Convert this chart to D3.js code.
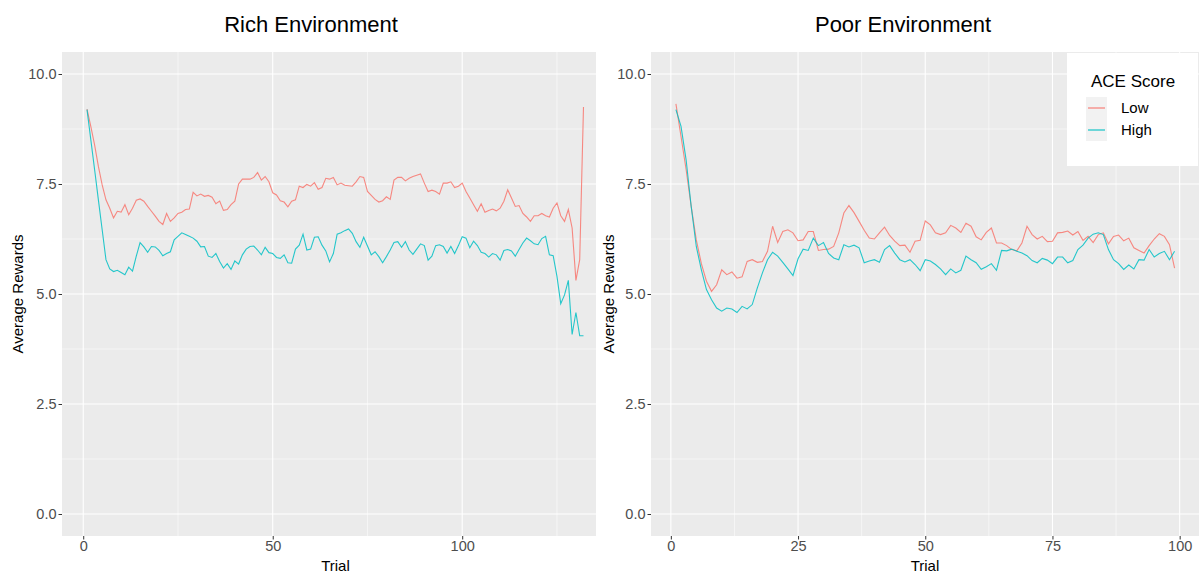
<!DOCTYPE html>
<html>
<head>
<meta charset="utf-8">
<script src="https://cdn.jsdelivr.net/npm/d3@7"></script>
<style>
  body { margin: 0; background: #fff; }
  text { font-family: "Liberation Sans", Arial, sans-serif; }
</style>
</head>
<body>
<div id="chart"></div>
<script>
// Average rewards per trial
const richLow = [
  9.20, 8.81, 8.39, 7.90, 7.48, 7.14, 6.95, 6.73, 6.88, 6.86,
  7.03, 6.80, 6.95, 7.13, 7.16, 7.11, 6.99, 6.88, 6.77, 6.65,
  6.58, 6.83, 6.65, 6.73, 6.83, 6.86, 6.92, 6.93, 7.31, 7.23,
  7.27, 7.22, 7.24, 7.20, 7.05, 7.11, 6.90, 6.92, 7.03, 7.11,
  7.50, 7.61, 7.61, 7.61, 7.65, 7.76, 7.59, 7.67, 7.55, 7.30,
  7.25, 7.12, 7.09, 6.98, 7.11, 7.14, 7.45, 7.42, 7.49, 7.45,
  7.53, 7.38, 7.42, 7.63, 7.61, 7.65, 7.48, 7.52, 7.47, 7.46,
  7.45, 7.55, 7.67, 7.65, 7.33, 7.24, 7.15, 7.09, 7.12, 7.21,
  7.15, 7.59, 7.65, 7.65, 7.57, 7.63, 7.67, 7.70, 7.73, 7.52,
  7.33, 7.36, 7.33, 7.27, 7.52, 7.52, 7.55, 7.42, 7.45, 7.52,
  7.33, 7.18, 7.03, 6.88, 7.05, 6.86, 6.90, 6.93, 6.89, 6.95,
  7.11, 7.37, 7.18, 6.99, 7.01, 6.83, 6.75, 6.65, 6.78, 6.78,
  6.83, 6.78, 6.75, 6.95, 7.07, 6.78, 6.65, 6.92, 6.50, 5.31,
  5.78, 9.25
];
const richHigh = [
  9.19, 8.51, 7.83, 7.14, 6.46, 5.78, 5.57, 5.51, 5.54, 5.49,
  5.44, 5.61, 5.52, 5.86, 6.17, 6.07, 5.95, 6.08, 6.07, 5.99,
  5.87, 5.92, 5.96, 6.23, 6.31, 6.39, 6.35, 6.31, 6.27, 6.20,
  6.07, 6.08, 5.86, 5.83, 5.92, 5.74, 5.59, 5.69, 5.56, 5.75,
  5.68, 5.89, 6.02, 6.08, 6.09, 6.00, 5.89, 6.06, 5.94, 5.92,
  5.83, 5.81, 5.89, 5.71, 5.70, 6.02, 6.11, 6.36, 6.00, 6.02,
  6.29, 6.30, 6.11, 5.98, 5.73, 5.92, 6.36, 6.39, 6.44, 6.48,
  6.38, 6.19, 6.06, 6.29, 6.09, 5.89, 5.96, 5.85, 5.71, 5.85,
  6.00, 6.17, 6.19, 6.06, 6.19, 6.00, 5.90, 6.02, 6.14, 6.10,
  5.77, 5.86, 6.10, 6.12, 6.08, 5.93, 6.08, 5.92, 6.10, 6.30,
  6.27, 6.05, 6.20, 6.10, 5.95, 5.92, 5.84, 5.92, 5.89, 5.77,
  5.99, 6.01, 5.98, 5.86, 6.01, 6.16, 6.27, 6.21, 6.14, 6.12,
  6.26, 6.31, 5.89, 5.87, 5.40, 4.78, 4.98, 5.31, 4.08, 4.58,
  4.05, 4.05
];
const poorLow = [
  9.32, 8.58, 7.83, 6.99, 6.23, 5.69, 5.29, 5.06, 5.21, 5.55,
  5.44, 5.50, 5.36, 5.39, 5.74, 5.78, 5.72, 5.74, 5.97, 6.54,
  6.17, 6.42, 6.46, 6.39, 6.21, 6.23, 6.42, 6.42, 5.99, 6.01,
  6.02, 6.08, 6.39, 6.84, 7.01, 6.85, 6.65, 6.45, 6.27, 6.25,
  6.39, 6.52, 6.33, 6.20, 6.10, 6.11, 5.95, 6.20, 6.22, 6.66,
  6.57, 6.39, 6.35, 6.39, 6.56, 6.50, 6.40, 6.61, 6.54, 6.30,
  6.23, 6.40, 6.50, 6.16, 6.16, 6.10, 6.01, 5.98, 6.16, 6.54,
  6.35, 6.25, 6.31, 6.19, 6.20, 6.39, 6.40, 6.43, 6.34, 6.42,
  6.22, 6.31, 6.17, 6.35, 6.39, 6.14, 6.31, 6.34, 6.21, 6.27,
  6.05, 5.99, 5.93, 6.10, 6.25, 6.37, 6.31, 6.12, 5.59
];
const poorHigh = [
  9.19, 8.81, 8.05, 6.99, 6.08, 5.55, 5.10, 4.87, 4.68, 4.61,
  4.68, 4.66, 4.58, 4.72, 4.66, 4.76, 5.14, 5.48, 5.78, 5.95,
  5.86, 5.72, 5.57, 5.42, 5.80, 6.02, 5.99, 6.27, 6.10, 6.17,
  5.92, 5.82, 5.78, 6.12, 6.07, 6.11, 6.05, 5.71, 5.75, 5.78,
  5.72, 6.01, 6.10, 5.93, 5.78, 5.73, 5.78, 5.67, 5.53, 5.78,
  5.75, 5.67, 5.57, 5.44, 5.57, 5.48, 5.54, 5.86, 5.78, 5.71,
  5.56, 5.62, 5.69, 5.54, 5.99, 5.98, 6.02, 5.97, 5.93, 5.87,
  5.76, 5.71, 5.81, 5.77, 5.69, 5.84, 5.84, 5.71, 5.76, 6.01,
  6.11, 6.27, 6.36, 6.39, 6.35, 6.01, 5.78, 5.69, 5.56, 5.66,
  5.57, 5.78, 5.77, 6.01, 5.84, 5.92, 5.97, 5.78, 5.97
];

const seriesNames = ['Low', 'High'];
const seriesColors = ['#F8766D', '#00BFC4'];
const yTicks = [0, 2.5, 5, 7.5, 10];
const yMinor = [1.25, 3.75, 6.25, 8.75];
const richXTicks = [0, 50, 100];
const richXMinor = [25, 75, 125];
const poorXTicks = [0, 25, 50, 75, 100];
const poorXMinor = [12.5, 37.5, 62.5, 87.5];

const width = 1201;
const height = 575;
const panelTop = 52, panelBottom = 536;

const svg = d3.select('#chart')
  .append('svg')
  .attr('width', width)
  .attr('height', height);

const y = d3.scaleLinear().domain([-0.5, 10.5]).range([panelBottom, panelTop]);

function drawPanel(p) {
  const x = d3.scaleLinear().domain(p.xDomain).range([p.left, p.right]);
  const g = svg.append('g');

  g.append('clipPath').attr('id', p.id)
    .append('rect')
    .attr('x', p.left).attr('y', panelTop)
    .attr('width', p.right - p.left).attr('height', panelBottom - panelTop);

  g.append('rect')
    .attr('x', p.left).attr('y', panelTop)
    .attr('width', p.right - p.left).attr('height', panelBottom - panelTop)
    .attr('fill', '#EBEBEB');

  const grid = g.append('g').attr('clip-path', `url(#${p.id})`);
  grid.selectAll('.ym').data(yMinor).enter().append('line')
    .attr('x1', p.left).attr('x2', p.right)
    .attr('y1', d => y(d)).attr('y2', d => y(d))
    .attr('stroke', '#fff').attr('stroke-width', 0.55);
  grid.selectAll('.xm').data(p.xMinor).enter().append('line')
    .attr('x1', d => x(d)).attr('x2', d => x(d))
    .attr('y1', panelTop).attr('y2', panelBottom)
    .attr('stroke', '#fff').attr('stroke-width', 0.55);
  grid.selectAll('.yM').data(yTicks).enter().append('line')
    .attr('x1', p.left).attr('x2', p.right)
    .attr('y1', d => y(d)).attr('y2', d => y(d))
    .attr('stroke', '#fff').attr('stroke-width', 1.1);
  grid.selectAll('.xM').data(p.xTicks).enter().append('line')
    .attr('x1', d => x(d)).attr('x2', d => x(d))
    .attr('y1', panelTop).attr('y2', panelBottom)
    .attr('stroke', '#fff').attr('stroke-width', 1.1);

  const line = d3.line()
    .x((d, i) => x(i + 1))
    .y(d => y(d));

  [p.low, p.high].forEach((vals, k) => {
    grid.append('path')
      .datum(vals)
      .attr('d', line)
      .attr('fill', 'none')
      .attr('stroke', seriesColors[k])
      .attr('stroke-opacity', 0.85)
      .attr('stroke-width', 1.1);
  });

  const yAxis = g.append('g')
    .attr('transform', `translate(${p.left},0)`)
    .call(d3.axisLeft(y).tickValues(yTicks).tickFormat(d3.format('.1f')).tickSize(3.5).tickPadding(2));
  const xAxis = g.append('g')
    .attr('transform', `translate(0,${panelBottom})`)
    .call(d3.axisBottom(x).tickValues(p.xTicks).tickFormat(d3.format('d')).tickSize(3.5).tickPadding(1.5));
  [yAxis, xAxis].forEach(a => {
    a.select('.domain').remove();
    a.selectAll('.tick line').attr('stroke', '#333');
    a.selectAll('.tick text')
      .attr('fill', '#4D4D4D')
      .style('font-size', '14.5px')
      .style('font-family', '"Liberation Sans", Arial, sans-serif');
  });

  g.append('text')
    .attr('x', p.titleX).attr('y', 32)
    .attr('text-anchor', 'middle')
    .style('font-size', '22px')
    .attr('fill', '#000')
    .text(p.title);

  g.append('text')
    .attr('x', (p.left + p.axisRight) / 2).attr('y', 571)
    .attr('text-anchor', 'middle')
    .style('font-size', '15px')
    .attr('fill', '#000')
    .text('Trial');

  g.append('text')
    .attr('transform', `translate(${p.yTitleX},${(panelTop + panelBottom) / 2}) rotate(-90)`)
    .attr('text-anchor', 'middle')
    .style('font-size', '15px')
    .attr('fill', '#000')
    .text('Average Rewards');
}

drawPanel({
  id: 'clipRich', title: 'Rich Environment', titleX: 311,
  left: 62, right: 596, axisRight: 609, xDomain: [-5.6, 135.3],
  xTicks: richXTicks, xMinor: richXMinor, yTitleX: 23,
  low: richLow, high: richHigh
});

drawPanel({
  id: 'clipPoor', title: 'Poor Environment', titleX: 903,
  left: 651, right: 1199, axisRight: 1199, xDomain: [-3.9, 103.8],
  xTicks: poorXTicks, xMinor: poorXMinor, yTitleX: 614,
  low: poorLow, high: poorHigh
});

// legend inside the poor panel, top right
const legend = svg.append('g');
legend.append('rect')
  .attr('x', 1067).attr('y', 53).attr('width', 131).attr('height', 113)
  .attr('fill', '#fff');
legend.append('text')
  .attr('x', 1091).attr('y', 87)
  .style('font-size', '17px')
  .text('ACE Score');
seriesNames.forEach((name, i) => {
  const cy = 108 + i * 22;
  legend.append('rect')
    .attr('x', 1086).attr('y', cy - 11).attr('width', 21).attr('height', 22)
    .attr('fill', '#F2F2F2');
  legend.append('line')
    .attr('x1', 1088).attr('x2', 1105)
    .attr('y1', cy).attr('y2', cy)
    .attr('stroke', seriesColors[i]).attr('stroke-width', 1.1);
  legend.append('text')
    .attr('x', 1121).attr('y', cy)
    .attr('dy', '0.35em')
    .style('font-size', '15px')
    .text(name);
});
</script>
</body>
</html>
